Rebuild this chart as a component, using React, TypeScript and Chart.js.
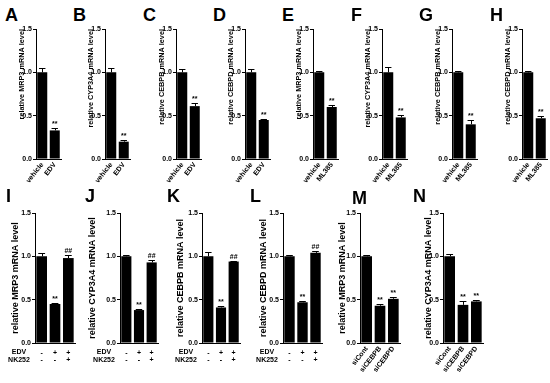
import React, { useEffect, useRef } from 'react';
import { Chart, registerables } from 'chart.js';

Chart.register(...registerables);

const FONT = '"Liberation Sans", Arial, Helvetica, sans-serif';

// ---------- categories / tick labels ----------
const edvLabels = ['vehicle', 'EDV'];
const mlLabels = ['vehicle', 'ML385'];
const comboLabels = [['-', '-'], ['+', '-'], ['+', '+']];
const comboRowNames = ['EDV', 'NK252'];
const siLabels = ['siCont', 'siCEBPB', 'siCEBPD'];
const yTicks = [0, 0.5, 1.0, 1.5];

// ---------- series values (mean, SEM, significance marks) ----------
const aMeans = [1.0, 0.33];
const aErr = [0.05, 0.03];
const aMarks = ['', '**'];

const bMeans = [1.0, 0.2];
const bErr = [0.05, 0.02];
const bMarks = ['', '**'];

const cMeans = [1.0, 0.61];
const cErr = [0.04, 0.04];
const cMarks = ['', '**'];

const dMeans = [1.0, 0.45];
const dErr = [0.04, 0.01];
const dMarks = ['', '**'];

const eMeans = [1.0, 0.6];
const eErr = [0.01, 0.02];
const eMarks = ['', '**'];

const fMeans = [1.0, 0.48];
const fErr = [0.06, 0.03];
const fMarks = ['', '**'];

const gMeans = [1.0, 0.4];
const gErr = [0.01, 0.05];
const gMarks = ['', '**'];

const hMeans = [1.0, 0.47];
const hErr = [0.01, 0.03];
const hMarks = ['', '**'];

const iMeans = [1.0, 0.45, 0.98];
const iErr = [0.04, 0.01, 0.03];
const iMarks = ['', '**', '##'];

const jMeans = [1.0, 0.38, 0.93];
const jErr = [0.01, 0.01, 0.03];
const jMarks = ['', '**', '##'];

const kMeans = [1.0, 0.41, 0.94];
const kErr = [0.05, 0.02, 0.01];
const kMarks = ['', '**', '##'];

const lMeans = [1.0, 0.47, 1.04];
const lErr = [0.01, 0.02, 0.02];
const lMarks = ['', '**', '##'];

const mMeans = [1.0, 0.43, 0.51];
const mErr = [0.01, 0.02, 0.02];
const mMarks = ['', '**', '**'];

const nMeans = [1.0, 0.44, 0.48];
const nErr = [0.03, 0.04, 0.02];
const nMarks = ['', '**', '**'];

const yTitleMRP3 = 'relative MRP3 mRNA level';
const yTitleCYP = 'relative CYP3A4 mRNA level';
const yTitleCEBPB = 'relative CEBPB mRNA level';
const yTitleCEBPD = 'relative CEBPD mRNA level';

// ---------- layout (positions only) ----------
const Y_W = 34;
const PAD_T = 7;
const PAD_R = 10;
const TOP_Y = 29;
const BOT_Y = 213;
const PLOT_H = 130;
const ROW_PAD = 6;
const ROW_LH = 7.7;

type Spec = {
  letter: string;
  lx: number;
  ly: number;
  axisX: number;
  top: number;
  w: number;
  xH: number;
  rot: number;
  tSize: number;
  tAlign: string;
  tGap: number;
  labels: any[];
  means: number[];
  errors: number[];
  marks: string[];
  rows?: string[];
  title: string;
};

const topRow = { top: TOP_Y, w: 25, xH: 36, rot: 52, tSize: 7.3, tAlign: 'end', tGap: 14, ly: 6 };
const comboRow = { top: BOT_Y, xH: 26, rot: 0, tSize: 9, tAlign: 'center', tGap: 19, ly: 187 };
const siRow = { top: BOT_Y, w: 40, xH: 40, rot: 52, tSize: 9, tAlign: 'center', tGap: 17 };

const panels: Spec[] = [
  { ...topRow, letter: 'A', lx: 5, axisX: 36, labels: edvLabels, means: aMeans, errors: aErr, marks: aMarks, title: yTitleMRP3 },
  { ...topRow, letter: 'B', lx: 73, axisX: 105, labels: edvLabels, means: bMeans, errors: bErr, marks: bMarks, title: yTitleCYP },
  { ...topRow, letter: 'C', lx: 143, axisX: 176, labels: edvLabels, means: cMeans, errors: cErr, marks: cMarks, title: yTitleCEBPB },
  { ...topRow, letter: 'D', lx: 213, axisX: 245, labels: edvLabels, means: dMeans, errors: dErr, marks: dMarks, title: yTitleCEBPD },
  { ...topRow, letter: 'E', lx: 282, axisX: 313, labels: mlLabels, means: eMeans, errors: eErr, marks: eMarks, title: yTitleMRP3 },
  { ...topRow, letter: 'F', lx: 351, axisX: 382, labels: mlLabels, means: fMeans, errors: fErr, marks: fMarks, title: yTitleCYP },
  { ...topRow, letter: 'G', lx: 419, axisX: 452, labels: mlLabels, means: gMeans, errors: gErr, marks: gMarks, title: yTitleCEBPB },
  { ...topRow, letter: 'H', lx: 490, axisX: 522, labels: mlLabels, means: hMeans, errors: hErr, marks: hMarks, title: yTitleCEBPD },
  { ...comboRow, letter: 'I', lx: 6, axisX: 35, w: 40, labels: comboLabels, means: iMeans, errors: iErr, marks: iMarks, rows: comboRowNames, title: yTitleMRP3 },
  { ...comboRow, letter: 'J', lx: 85, axisX: 120, w: 38, tGap: 27, labels: comboLabels, means: jMeans, errors: jErr, marks: jMarks, rows: comboRowNames, title: yTitleCYP },
  { ...comboRow, letter: 'K', lx: 167, axisX: 202, w: 38, tGap: 21, labels: comboLabels, means: kMeans, errors: kErr, marks: kMarks, rows: comboRowNames, title: yTitleCEBPB },
  { ...comboRow, letter: 'L', lx: 250, axisX: 283, w: 39, labels: comboLabels, means: lMeans, errors: lErr, marks: lMarks, rows: comboRowNames, title: yTitleCEBPD },
  { ...siRow, letter: 'M', lx: 352, ly: 189, axisX: 360, labels: siLabels, means: mMeans, errors: mErr, marks: mMarks, title: yTitleMRP3 },
  { ...siRow, letter: 'N', lx: 413, ly: 187, axisX: 443, tGap: 14, labels: siLabels, means: nMeans, errors: nErr, marks: nMarks, title: yTitleCYP },
];

const errorBarPlugin = {
  id: 'errbars',
  afterDatasetsDraw(chart: any, _args: any, opts: any) {
    const { ctx, chartArea } = chart;
    const meta = chart.getDatasetMeta(0);
    const yScale = chart.scales.y;
    const values = chart.data.datasets[0].data as number[];
    ctx.save();
    ctx.strokeStyle = '#000';
    ctx.fillStyle = '#000';
    ctx.lineWidth = 1;
    meta.data.forEach((bar: any, i: number) => {
      const v = values[i];
      const e = (opts.errors || [])[i] || 0;
      const x = bar.x;
      const w = bar.width;
      const yTop = yScale.getPixelForValue(v + e);
      const yVal = yScale.getPixelForValue(v);
      const xc = Math.round(x) + 0.5;
      const yc = Math.round(yTop) + 0.5;
      ctx.beginPath();
      ctx.moveTo(xc, yVal);
      ctx.lineTo(xc, yc);
      ctx.moveTo(x - w * 0.32, yc);
      ctx.lineTo(x + w * 0.32, yc);
      ctx.stroke();
      const mark = (opts.marks || [])[i];
      if (mark) {
        ctx.font = `bold 7px ${FONT}`;
        ctx.textAlign = 'center';
        ctx.textBaseline = 'alphabetic';
        ctx.fillText(mark, x, yTop - 2);
      }
    });
    if (opts.rows) {
      ctx.font = `bold 7px ${FONT}`;
      ctx.textAlign = 'center';
      ctx.textBaseline = 'top';
      opts.rows.forEach((r: string, k: number) => {
        ctx.fillText(r, chartArea.left - 16, chartArea.bottom + ROW_PAD + k * ROW_LH);
      });
    }
    ctx.restore();
  },
};

function Panel({ spec }: { spec: Spec }) {
  const ref = useRef<HTMLCanvasElement>(null);
  const cw = Y_W + spec.w + PAD_R;
  const ch = PAD_T + PLOT_H + spec.xH;
  useEffect(() => {
    const font = { family: FONT, size: 7, weight: 'bold' as const };
    const tLH = spec.tSize * 1.2;
    const chart = new Chart(ref.current as HTMLCanvasElement, {
      type: 'bar',
      data: {
        labels: spec.labels,
        datasets: [
          {
            data: spec.means,
            backgroundColor: '#000',
            borderWidth: 0,
            barPercentage: 0.8,
            categoryPercentage: 1,
          },
        ],
      },
      options: {
        responsive: false,
        animation: false,
        devicePixelRatio: 1,
        layout: { padding: { top: PAD_T, right: PAD_R, left: 0, bottom: 0 } },
        plugins: {
          legend: { display: false },
          tooltip: { enabled: false },
          errbars: { errors: spec.errors, marks: spec.marks, rows: spec.rows },
        } as any,
        scales: {
          x: {
            grid: { display: false, drawTicks: false },
            border: { display: true, color: '#000', width: 1 },
            ticks: {
              color: '#000',
              font: { ...font, lineHeight: ROW_LH / 7 },
              maxRotation: spec.rot,
              minRotation: spec.rot,
              autoSkip: false,
              padding: spec.rot ? 2 : ROW_PAD,
            },
            afterCalculateLabelRotation: (s: any) => {
              s.labelRotation = spec.rot;
            },
            afterFit: (s: any) => {
              s.height = spec.xH;
            },
          },
          y: {
            min: 0,
            max: 1.5,
            afterBuildTicks: (s: any) => {
              s.ticks = yTicks.map((v) => ({ value: v }));
            },
            ticks: {
              color: '#000',
              font,
              padding: 1,
              callback: (v: any) => Number(v).toFixed(1),
            },
            grid: {
              display: true,
              drawOnChartArea: false,
              drawTicks: true,
              tickLength: 3,
              color: '#000',
              lineWidth: 1,
            },
            border: { display: true, color: '#000', width: 1 },
            title: {
              display: true,
              text: spec.title,
              color: '#000',
              font: { family: FONT, size: spec.tSize, weight: 'bold' },
              align: spec.tAlign,
              padding: { top: Y_W - spec.tGap - tLH / 2, bottom: 0 },
            },
            afterFit: (s: any) => {
              s.width = Y_W;
            },
          },
        },
      } as any,
      plugins: [errorBarPlugin as any],
    });
    return () => chart.destroy();
  }, []);
  return (
    <>
      <div
        style={{
          position: 'absolute',
          left: spec.lx,
          top: spec.ly,
          font: `bold 18px ${FONT}`,
          lineHeight: '18px',
          color: '#000',
        }}
      >
        {spec.letter}
      </div>
      <canvas
        ref={ref}
        width={cw}
        height={ch}
        style={{
          position: 'absolute',
          left: spec.axisX - Y_W,
          top: spec.top - PAD_T,
          width: cw,
          height: ch,
        }}
      />
    </>
  );
}

export default function App() {
  return (
    <div
      style={{
        position: 'fixed',
        left: 0,
        top: 0,
        width: 550,
        height: 383,
        overflow: 'hidden',
        background: '#fff',
      }}
    >
      {panels.map((p) => (
        <Panel key={p.letter} spec={p} />
      ))}
    </div>
  );
}
